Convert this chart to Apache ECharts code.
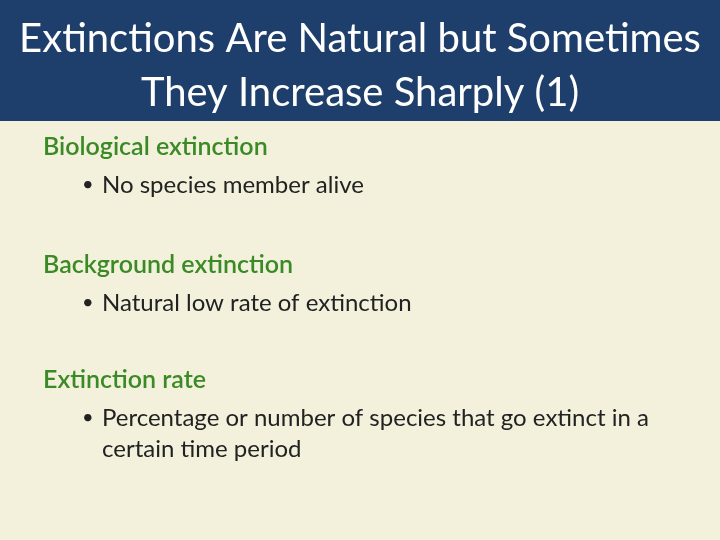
<!DOCTYPE html>
<html><head><meta charset="utf-8">
<script src="https://cdn.jsdelivr.net/npm/echarts@6/dist/echarts.min.js"></script>
<style>html,body{margin:0;padding:0;}#c{width:720px;height:540px;}</style>
</head><body><div id="c"></div>
<script>
const titleLines = ["Extinctions Are Natural but Sometimes", "They Increase Sharply (1)"];
const headings = ["Biological extinction", "Background extinction", "Extinction rate"];
const bullets = [
  ["No species member alive"],
  ["Natural low rate of extinction"],
  ["Percentage or number of species that go extinct in a\ncertain time period"]
];
const font = "Lato, 'Open Sans', sans-serif";
const headY = [147, 265, 380];
const els = [
  {type:'rect', shape:{x:0,y:0,width:720,height:540}, style:{fill:'#F3F0DC'}},
  {type:'rect', shape:{x:0,y:0,width:720,height:121}, style:{fill:'#1E3F6B'}}
];
titleLines.forEach((t,i)=>els.push({type:'text', x:360, y:39+i*54, style:{text:t, fill:'#fff', font:'40px '+font, textAlign:'center', textVerticalAlign:'middle'}}));
headings.forEach((h,i)=>{
  els.push({type:'text', x:43, y:headY[i], style:{text:h, fill:'#3A8A25', font:'600 25px '+font, textVerticalAlign:'middle'}});
  bullets[i].forEach((b,j)=>{
    const y = headY[i]+38;
    els.push({type:'text', x:82, y:y, style:{text:'•', fill:'#222', font:'20px '+font, textVerticalAlign:'middle'}});
    els.push({type:'text', x:102, y:y-15, style:{text:b, fill:'#222', font:'24px '+font, lineHeight:31, textVerticalAlign:'top'}});
  });
});
const chart = echarts.init(document.getElementById('c'));
chart.setOption({animation:false, graphic:{elements:els}});
</script></body></html>
